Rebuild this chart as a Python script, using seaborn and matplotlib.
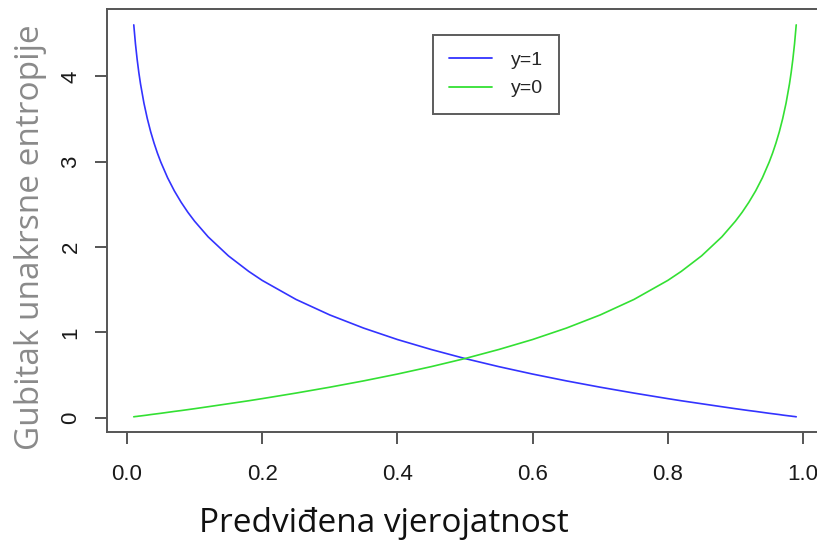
import matplotlib
matplotlib.use("Agg")
import matplotlib.pyplot as plt
import seaborn as sns
import pandas as pd

# predicted probability and the cross-entropy loss for each true class
prob = [0.01, 0.0125, 0.015, 0.0175, 0.02, 0.025, 0.03, 0.035, 0.04, 0.045, 0.05, 0.06,
        0.07, 0.08, 0.09, 0.10, 0.12, 0.15, 0.18, 0.20, 0.25, 0.30, 0.35, 0.40, 0.45,
        0.50, 0.55, 0.60, 0.65, 0.70, 0.75, 0.80, 0.82, 0.85, 0.88, 0.90, 0.91, 0.92,
        0.93, 0.94, 0.95, 0.955, 0.96, 0.965, 0.97, 0.975, 0.98, 0.9825, 0.985, 0.9875, 0.99]
loss_y1 = [4.605, 4.382, 4.200, 4.045, 3.912, 3.689, 3.507, 3.352, 3.219, 3.101, 2.996, 2.813,
           2.659, 2.526, 2.408, 2.303, 2.120, 1.897, 1.715, 1.609, 1.386, 1.204, 1.050, 0.916, 0.799,
           0.693, 0.598, 0.511, 0.431, 0.357, 0.288, 0.223, 0.198, 0.163, 0.128, 0.105, 0.094, 0.083,
           0.073, 0.062, 0.051, 0.046, 0.041, 0.036, 0.030, 0.025, 0.020, 0.018, 0.015, 0.013, 0.010]
loss_y0 = [0.010, 0.013, 0.015, 0.018, 0.020, 0.025, 0.030, 0.036, 0.041, 0.046, 0.051, 0.062,
           0.073, 0.083, 0.094, 0.105, 0.128, 0.163, 0.198, 0.223, 0.288, 0.357, 0.431, 0.511, 0.598,
           0.693, 0.799, 0.916, 1.050, 1.204, 1.386, 1.609, 1.715, 1.897, 2.120, 2.303, 2.408, 2.526,
           2.659, 2.813, 2.996, 3.101, 3.219, 3.352, 3.507, 3.689, 3.912, 4.045, 4.200, 4.382, 4.605]
series_labels = ["y=1", "y=0"]
x_ticks = [0.0, 0.2, 0.4, 0.6, 0.8, 1.0]
y_ticks = [0, 1, 2, 3, 4]

df = pd.concat([
    pd.DataFrame({"p": prob, "loss": loss_y1, "klasa": series_labels[0]}),
    pd.DataFrame({"p": prob, "loss": loss_y0, "klasa": series_labels[1]}),
])

sns.set_style("white")
plt.rcParams["font.family"] = ["Liberation Sans", "DejaVu Sans"]

fig = plt.figure(figsize=(8.17, 5.40), dpi=100)
ax = fig.add_axes([0.1313, 0.1991, 0.8757, 0.7839])

palette = {"y=1": "#3333ff", "y=0": "#33e033"}
sns.lineplot(data=df, x="p", y="loss", hue="klasa", palette=palette,
             estimator=None, linewidth=1.2, ax=ax)

# R-style extended limits (4% padding)
ax.set_xlim(-0.0292, 1.0292)
ax.set_ylim(-0.174, 4.789)
ax.set_xticks(x_ticks)
ax.set_xticklabels([f"{t:.1f}" for t in x_ticks])
ax.set_yticks(y_ticks)
ax.set_yticklabels([str(t) for t in y_ticks])
ax.set_xlabel("")
ax.set_ylabel("")

for s in ax.spines.values():
    s.set_color("#555555")
    s.set_linewidth(1.4)
    s.set_visible(True)

ax.tick_params(axis="both", which="major", direction="out", length=8.5, width=1.4,
               color="#555555", labelsize=16, labelcolor="#1a1a1a",
               bottom=True, left=True, top=False, right=False)
ax.tick_params(axis="x", pad=14)
ax.tick_params(axis="y", pad=10)
for lbl in ax.get_yticklabels():
    lbl.set_rotation(90)
    lbl.set_va("center")

leg = ax.legend(loc="upper left", bbox_to_anchor=(432.7 / 817, 1 - 35 / 540),
                bbox_transform=fig.transFigure, fontsize=14, frameon=True,
                fancybox=False, edgecolor="#333333", borderpad=0.85,
                handlelength=2.2, handletextpad=0.95, labelspacing=0.55,
                borderaxespad=0.0)
leg.get_frame().set_linewidth(1.4)
for line in leg.get_lines():
    line.set_linewidth(1.3)

fig.text(384 / 817, 1 - 523 / 540, "Predviđena vjerojatnost", fontsize=24,
         family=["Open Sans", "DejaVu Sans"], color="#111111",
         ha="center", va="center")
fig.text(31 / 817, 1 - 237 / 540, "Gubitak unakrsne entropije", fontsize=24,
         family=["Open Sans", "DejaVu Sans"], color="#8a8a8a",
         ha="center", va="center", rotation=90)

fig.savefig("out.png", dpi=100)
